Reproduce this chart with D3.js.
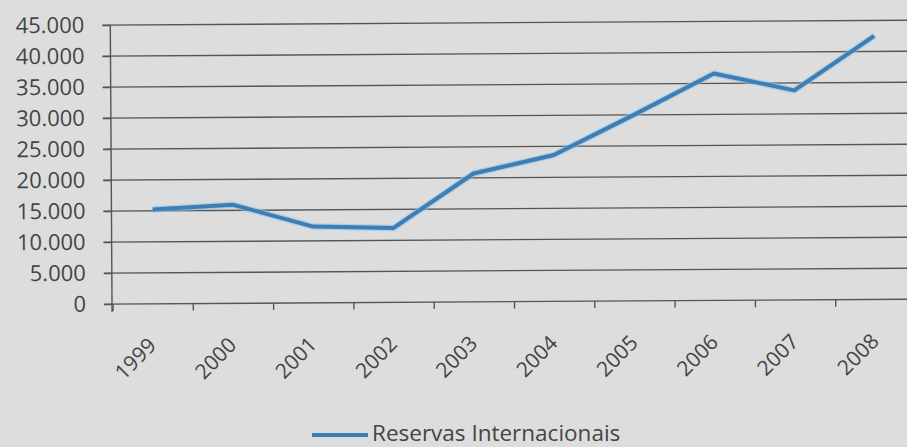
<!DOCTYPE html>
<html>
<head>
<meta charset="utf-8">
<script src="https://cdn.jsdelivr.net/npm/d3@7"></script>
<style>
  html, body { margin: 0; padding: 0; background: #dddddd; }
  svg { display: block; }
  text { font-family: "Open Sans", "Liberation Sans", sans-serif; fill: #444; }
</style>
</head>
<body>
<svg id="chart" width="907" height="447"></svg>
<script>
// Reservas internacionais, 1999–2008
const years = ["1999", "2000", "2001", "2002", "2003", "2004", "2005", "2006", "2007", "2008"];
const reservas = [15200, 15900, 12300, 12000, 20700, 23600, 30000, 36600, 33800, 42500];
const yTicks = [0, 5000, 10000, 15000, 20000, 25000, 30000, 35000, 40000, 45000];
const seriesName = "Reservas Internacionais";

const W = 907, H = 447;
const svg = d3.select("#chart");
svg.append("rect").attr("width", W).attr("height", H).attr("fill", "#dddddd");

// whole chart sits at a very slight tilt
const g = svg.append("g").attr("transform", "rotate(-0.35 450 300)");

const x = d3.scaleBand().domain(years).range([113, 916]).paddingInner(0).paddingOuter(0);
const y = d3.scaleLinear().domain([0, 45000]).range([302, 23]);

const fmt = d3.formatLocale({ decimal: ",", thousands: ".", grouping: [3], currency: ["", ""] }).format(",d");

// horizontal gridlines
g.append("g").selectAll("line").data(yTicks).join("line")
  .attr("x1", 104).attr("x2", W + 10)
  .attr("y1", d => y(d)).attr("y2", d => y(d))
  .attr("stroke", "#555").attr("stroke-width", 1.4);

// value axis
const yAxis = g.append("g").attr("transform", "translate(112,0)")
  .call(d3.axisLeft(y).tickValues(yTicks).tickFormat(fmt).tickSize(8).tickPadding(18));
yAxis.select(".domain").remove();
yAxis.selectAll(".tick line").attr("stroke", "#555").attr("stroke-width", 1.4);
yAxis.selectAll(".tick text").attr("font-size", 22).attr("fill", "#444")
  .attr("font-family", "'Open Sans', sans-serif");
g.append("line").attr("x1", 112).attr("x2", 112).attr("y1", y(45000)).attr("y2", y(0) + 8)
  .attr("stroke", "#555").attr("stroke-width", 1.4);

// category ticks at band boundaries
g.append("g").selectAll("line").data(years).join("line")
  .attr("x1", d => x(d)).attr("x2", d => x(d))
  .attr("y1", y(0)).attr("y2", y(0) + 7)
  .attr("stroke", "#555").attr("stroke-width", 1.4);

// rotated category labels
g.append("g").selectAll("text").data(years).join("text")
  .attr("transform", d => `translate(${x(d) + x.bandwidth() / 2 + 4},${y(0) + 43}) rotate(-45)`)
  .attr("text-anchor", "end")
  .attr("font-size", 21)
  .text(d => d);

// series line
const line = d3.line()
  .x((d, i) => x(years[i]) + x.bandwidth() / 2)
  .y(d => y(d));
g.append("path").datum(reservas)
  .attr("d", line)
  .attr("fill", "none")
  .attr("stroke", "#8cc3e6").attr("stroke-width", 6.5)
  .attr("stroke-linejoin", "round").attr("opacity", 0.6);
g.append("path").datum(reservas)
  .attr("d", line)
  .attr("fill", "none")
  .attr("stroke", "#3f7eb5").attr("stroke-width", 4)
  .attr("stroke-linejoin", "round");

// legend
const legend = svg.append("g").attr("transform", "translate(312,435)");
legend.append("line").attr("x1", 0).attr("x2", 56).attr("y1", 0).attr("y2", 0)
  .attr("stroke", "#3f7eb5").attr("stroke-width", 4);
legend.append("text").attr("x", 60).attr("y", 6)
  .attr("font-size", 22.5).text(seriesName);
</script>
</body>
</html>
